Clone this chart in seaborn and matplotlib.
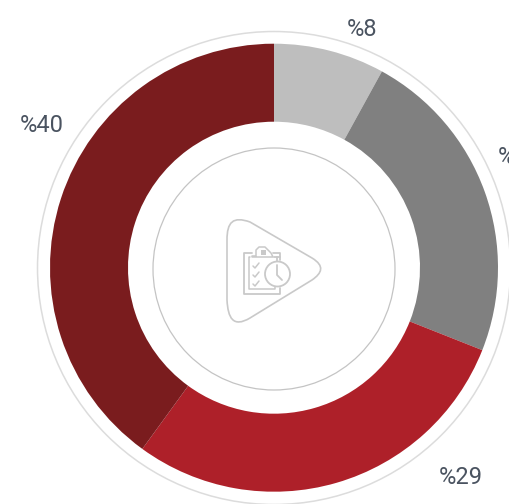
import matplotlib
matplotlib.use("Agg")
import matplotlib.pyplot as plt
import seaborn as sns
from matplotlib.patches import Circle, PathPatch, Rectangle
from matplotlib.path import Path

values = [8, 23, 29, 40]
labels = ["%8", "%23", "%29", "%40"]
colors = ["#bebebe", "#808080", "#ae2029", "#7a1c1e"]

W, H = 509, 504
CX, CY = 274, H - 267.7

sns.set_theme(style="white")
plt.rcParams["font.family"] = ["Roboto", "DejaVu Sans"]
palette = sns.color_palette(colors)

fig = plt.figure(figsize=(W / 100, H / 100), dpi=100)
ax = fig.add_axes([0, 0, 1, 1])

# donut
ax.pie(values, colors=palette, startangle=90, counterclock=False, center=(CX, CY),
       radius=224, frame=True, wedgeprops=dict(width=78, edgecolor="none"))
ax.set_xlim(0, W)
ax.set_ylim(0, H)
ax.set_aspect("equal")
ax.axis("off")

# thin rings
ax.add_patch(Circle((CX, H - 268), 236.5, fill=False, ec="#dcdcdc", lw=1.1))
ax.add_patch(Circle((CX, H - 269), 121, fill=False, ec="#c4c4c4", lw=0.9))

# labels
label_pos = [(362, 30), (520, 158), (461, 477), (42, 126)]
for txt, (x, y) in zip(labels, label_pos):
    ax.text(x, H - y, txt, ha="center", va="center", fontsize=17, color="#4a5360",
            fontweight="normal", clip_on=False)


def py(points):
    # picture pixels to axes coordinates
    return [(x, H - y) for x, y in points]


icon = "#c9c9c9"

# rounded play shape
verts = py([(227, 240), (227, 222), (233, 216), (250, 222), (312, 258), (325, 266), (322, 273),
            (312, 280), (250, 318), (233, 328), (228, 318), (227, 300), (227, 240)])
codes = [Path.MOVETO, Path.CURVE4, Path.CURVE4, Path.CURVE4, Path.LINETO, Path.CURVE4, Path.CURVE4,
         Path.CURVE4, Path.LINETO, Path.CURVE4, Path.CURVE4, Path.CURVE4, Path.CLOSEPOLY]
ax.add_patch(PathPatch(Path(verts, codes), fill=False, ec=icon, lw=1.2))

# clipboard
board = py([(252, 253), (244, 253), (244, 294), (280, 294), (280, 288)])
ax.plot(*zip(*board), color=icon, lw=1.3)
sheet = py([(250, 257), (249, 257), (249, 289), (275, 289), (275, 286)])
ax.plot(*zip(*sheet), color=icon, lw=1.1)
ax.plot(*zip(*py([(273, 253), (280, 253), (280, 260)])), color=icon, lw=1.3)

# clip on top of the board
clip = py([(252, 256), (256, 256), (256, 250), (259, 247), (265, 247), (268, 250), (271, 253), (273, 257), (252, 257)])
ax.plot(*zip(*clip), color=icon, lw=1.1)
ax.add_patch(Rectangle((261, H - 255), 5, 5, fc=icon, ec="none"))

# checks
for y in [266, 275, 284]:
    ax.plot(*zip(*py([(253, y), (255, y + 2), (259, y - 3)])), color=icon, lw=1.1)

# stopwatch
ax.add_patch(Circle((277.5, H - 274), 12.5, fc="white", ec=icon, lw=1.3, zorder=3))
ax.plot(*zip(*py([(277, 265), (277, 275), (282, 280)])), color=icon, lw=1.3, zorder=4)
ax.plot(*zip(*py([(277, 261), (277, 257)])), color=icon, lw=1.3)
ax.plot(*zip(*py([(274, 256.5), (280, 256.5)])), color=icon, lw=1.3)

fig.savefig("out.png", dpi=100, facecolor="white")
